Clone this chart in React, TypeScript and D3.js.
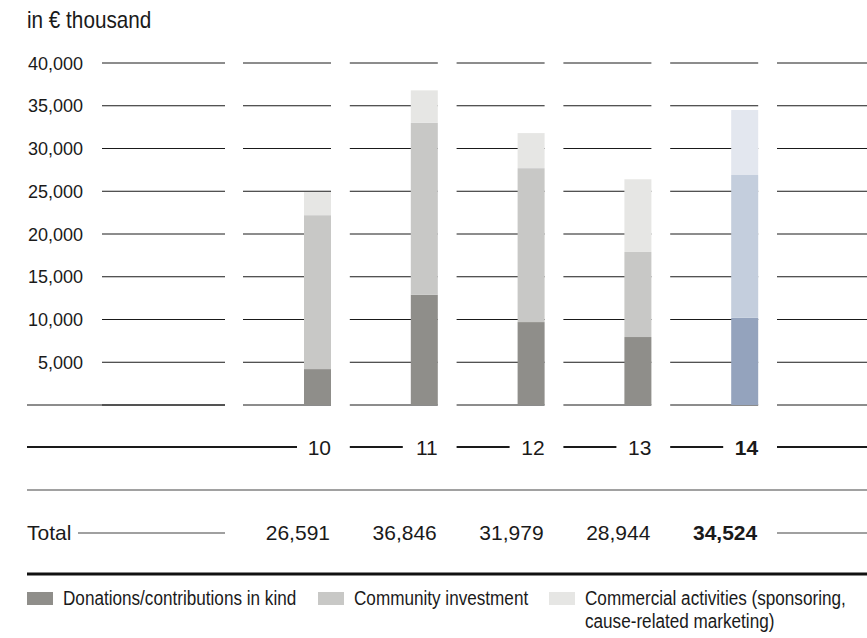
import React from "react";
import * as d3 from "d3";

const years = ["10", "11", "12", "13", "14"];
const donations = [4200, 12900, 9700, 7950, 10200];
const community = [18000, 20100, 18000, 9950, 16700];
const commercial = [2700, 3800, 4100, 8500, 7600];
const totals = [26591, 36846, 31979, 28944, 34524];
const yTicks = [0, 5000, 10000, 15000, 20000, 25000, 30000, 35000, 40000];
const seriesKeys = ["donations", "community", "commercial"];
const legendLabels = [
  ["Donations/contributions in kind"],
  ["Community investment"],
  ["Commercial activities (sponsoring,", "cause-related marketing)"],
];
const highlightYear = "14";

const W = 867;
const H = 638;
const greys = ["#8f8e8a", "#c8c8c6", "#e6e6e4"];
const blues = ["#94a3bd", "#c4cedd", "#e3e7ef"];
const FONT = "'Liberation Sans', Arial, sans-serif";

export default function App() {
  const y = d3.scaleLinear().domain([0, 40000]).range([405, 63]);
  const col = d3.scaleLinear().domain([0, 1]).range([243, 349.8]);
  const colW = 88;
  const barW = 27;
  const fmt = d3.format(",");

  const table = years.map((yr, i) => ({
    year: yr,
    donations: donations[i],
    community: community[i],
    commercial: commercial[i],
  }));
  const stack = d3.stack<any>().keys(seriesKeys)(table);

  const cols = d3.range(6);

  return (
    <svg
      width={W}
      height={H}
      style={{ position: "absolute", left: 0, top: 0, background: "#fff" }}
    >
      <text
        transform="translate(27,28) scale(0.9,1)"
        fontFamily={FONT}
        fontSize={23}
        fill="#1a1a1a"
      >
        in € thousand
      </text>

      {/* gridlines */}
      {yTicks.map((t) => (
        <g key={t}>
          <text
            x={83}
            y={y(t) + 6.5}
            textAnchor="end"
            fontFamily={FONT}
            fontSize={18}
            fill="#1a1a1a"
          >
            {t === 0 ? "" : fmt(t)}
          </text>
          <line x1={102} x2={225} y1={y(t)} y2={y(t)} stroke="#1a1a1a" strokeWidth={1} />
          {cols.map((c) => (
            <line
              key={c}
              x1={col(c)}
              x2={c === 5 ? W : col(c) + colW}
              y1={y(t)}
              y2={y(t)}
              stroke="#1a1a1a"
              strokeWidth={1}
            />
          ))}
          {t === 0 && (
            <line x1={27} x2={225} y1={y(t)} y2={y(t)} stroke="#1a1a1a" strokeWidth={1} />
          )}
        </g>
      ))}

      {/* bars */}
      {stack.map((s, si) =>
        s.map((d, i) => (
          <rect
            key={si + "-" + i}
            x={col(i) + colW - barW}
            width={barW}
            y={y(d[1])}
            height={y(d[0]) - y(d[1])}
            fill={years[i] === highlightYear ? blues[si] : greys[si]}
          />
        ))
      )}

      {/* x-axis row */}
      <line x1={27} x2={col(0) + 54} y1={447} y2={447} stroke="#1a1a1a" strokeWidth={2} />
      {years.map((yr, i) => (
        <g key={yr}>
          {i > 0 && (
            <line x1={col(i)} x2={col(i) + 53} y1={447} y2={447} stroke="#1a1a1a" strokeWidth={2} />
          )}
          <text
            x={col(i) + colW}
            y={455}
            textAnchor="end"
            fontFamily={FONT}
            fontSize={21}
            fontWeight={yr === highlightYear ? "bold" : "normal"}
            fill="#1a1a1a"
          >
            {yr}
          </text>
        </g>
      ))}
      <line x1={col(5)} x2={W} y1={447} y2={447} stroke="#1a1a1a" strokeWidth={2} />

      <line x1={27} x2={W} y1={490} y2={490} stroke="#444" strokeWidth={1.2} />

      {/* totals row */}
      <text x={27} y={540} fontFamily={FONT} fontSize={21} fill="#1a1a1a">
        Total
      </text>
      <line x1={78} x2={225} y1={533} y2={533} stroke="#808080" strokeWidth={1.5} />
      {totals.map((v, i) => (
        <text
          key={i}
          x={col(i) + colW - 1}
          y={540}
          textAnchor="end"
          fontFamily={FONT}
          fontSize={21}
          fontWeight={years[i] === highlightYear ? "bold" : "normal"}
          fill="#1a1a1a"
        >
          {fmt(v)}
        </text>
      ))}
      <line x1={col(5)} x2={W} y1={533} y2={533} stroke="#808080" strokeWidth={1.5} />

      {/* legend */}
      <line x1={27} x2={W} y1={574} y2={574} stroke="#111" strokeWidth={3} />
      {legendLabels.map((lines, i) => {
        const lx = [27, 318, 549][i];
        return (
          <g key={i}>
            <rect x={lx} y={592} width={26} height={13} fill={greys[i]} />
            {lines.map((ln, j) => (
              <text
                key={j}
                transform={`translate(${lx + 36},${605 + j * 23}) scale(0.857,1)`}
                fontFamily={FONT}
                fontSize={20}
                fill="#1a1a1a"
              >
                {ln}
              </text>
            ))}
          </g>
        );
      })}
    </svg>
  );
}
